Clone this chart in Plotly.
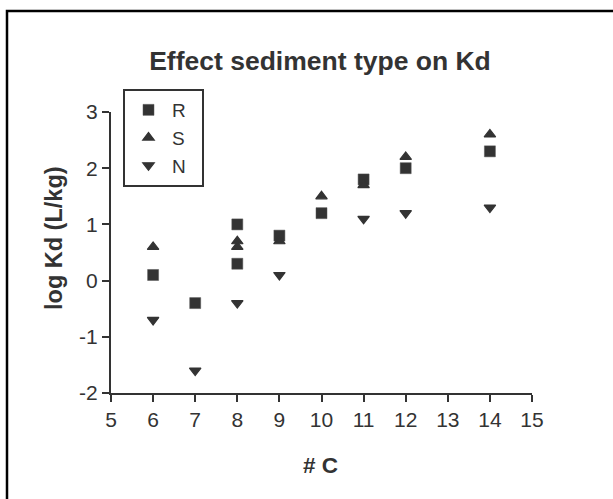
import plotly.graph_objects as go

# Data
r_x = [6, 7, 8, 8, 9, 10, 11, 12, 14]
r_y = [0.1, -0.4, 1.0, 0.3, 0.8, 1.2, 1.8, 2.0, 2.3]
s_x = [6, 8, 8, 9, 10, 11, 12, 14]
s_y = [0.6, 0.7, 0.6, 0.7, 1.5, 1.7, 2.2, 2.6]
n_x = [6, 7, 8, 9, 11, 12, 14]
n_y = [-0.7, -1.6, -0.4, 0.1, 1.1, 1.2, 1.3]

x_ticks = list(range(5, 16))
x_labels = [str(v) for v in x_ticks]
y_ticks = list(range(-2, 4))
y_labels = ["-2", "-1", "0", "1", "2", "3"]

INK = "#333333"
FONT = "Liberation Sans, Arial, sans-serif"
PAD = "\u00a0\u00a0"

fig = go.Figure()
fig.add_trace(go.Scatter(x=r_x, y=r_y, mode="markers", name="R" + PAD,
                         marker=dict(symbol="square", size=11, color=INK,
                                     line=dict(width=0.5, color="#555"))))
fig.add_trace(go.Scatter(x=s_x, y=s_y, mode="markers", name="S" + PAD,
                         marker=dict(symbol="triangle-up", size=10, color=INK,
                                     line=dict(width=1.2, color=INK))))
fig.add_trace(go.Scatter(x=n_x, y=n_y, mode="markers", name="N" + PAD,
                         marker=dict(symbol="triangle-down", size=10, color=INK,
                                     line=dict(width=1.2, color=INK))))

L, R, T, B = 111, 81, 112, 106
W, H = 613, 499
pw = W - L - R
ph = H - T - B


def px(xp):
    return (xp - L) / pw


def py(yp):
    return (H - B - yp) / ph


axis_common = dict(showline=True, linewidth=2, linecolor=INK, ticks="outside",
                   ticklen=7, tickwidth=2, tickcolor=INK, showgrid=False,
                   zeroline=False, tickfont=dict(family=FONT, size=21, color=INK),
                   mirror=False)

fig.update_xaxes(range=[5, 15], tickvals=x_ticks, ticktext=x_labels, **axis_common)
fig.update_yaxes(range=[-2, 3], tickvals=y_ticks, ticktext=y_labels, **axis_common)

fig.update_layout(
    width=W, height=H,
    margin=dict(l=L, r=R, t=T, b=B),
    paper_bgcolor="white", plot_bgcolor="white",
    title=dict(text="<b>Effect sediment type on Kd</b>", x=px(320), xref="paper",
               xanchor="center", y=1 - 61 / H, yref="container", yanchor="middle",
               font=dict(family=FONT, size=26.5, color=INK)),
    legend=dict(x=px(123), y=py(89), xanchor="left", yanchor="top",
                bordercolor=INK, borderwidth=2, bgcolor="white",
                font=dict(family=FONT, size=19, color=INK),
                itemwidth=37, tracegroupgap=0),
    showlegend=True,
    annotations=[
        dict(text="<b># C</b>", x=px(320), y=py(465), xref="paper", yref="paper",
             showarrow=False, xanchor="center", yanchor="middle",
             font=dict(family=FONT, size=22.5, color=INK)),
        dict(text="<b>log Kd (L/kg)</b>", x=px(54), y=py(238), xref="paper",
             yref="paper", showarrow=False, textangle=-90, xanchor="center",
             yanchor="middle", font=dict(family=FONT, size=23.5, color=INK)),
    ],
    shapes=[
        dict(type="rect", xref="paper", yref="paper", x0=px(7), x1=px(640),
             y0=py(540), y1=py(11), line=dict(color="black", width=2.5),
             layer="below"),
    ],
)

fig.write_html("out.html", config={"displayModeBar": False},
               post_script="document.body.style.margin='0';document.body.style.overflow='hidden';")
